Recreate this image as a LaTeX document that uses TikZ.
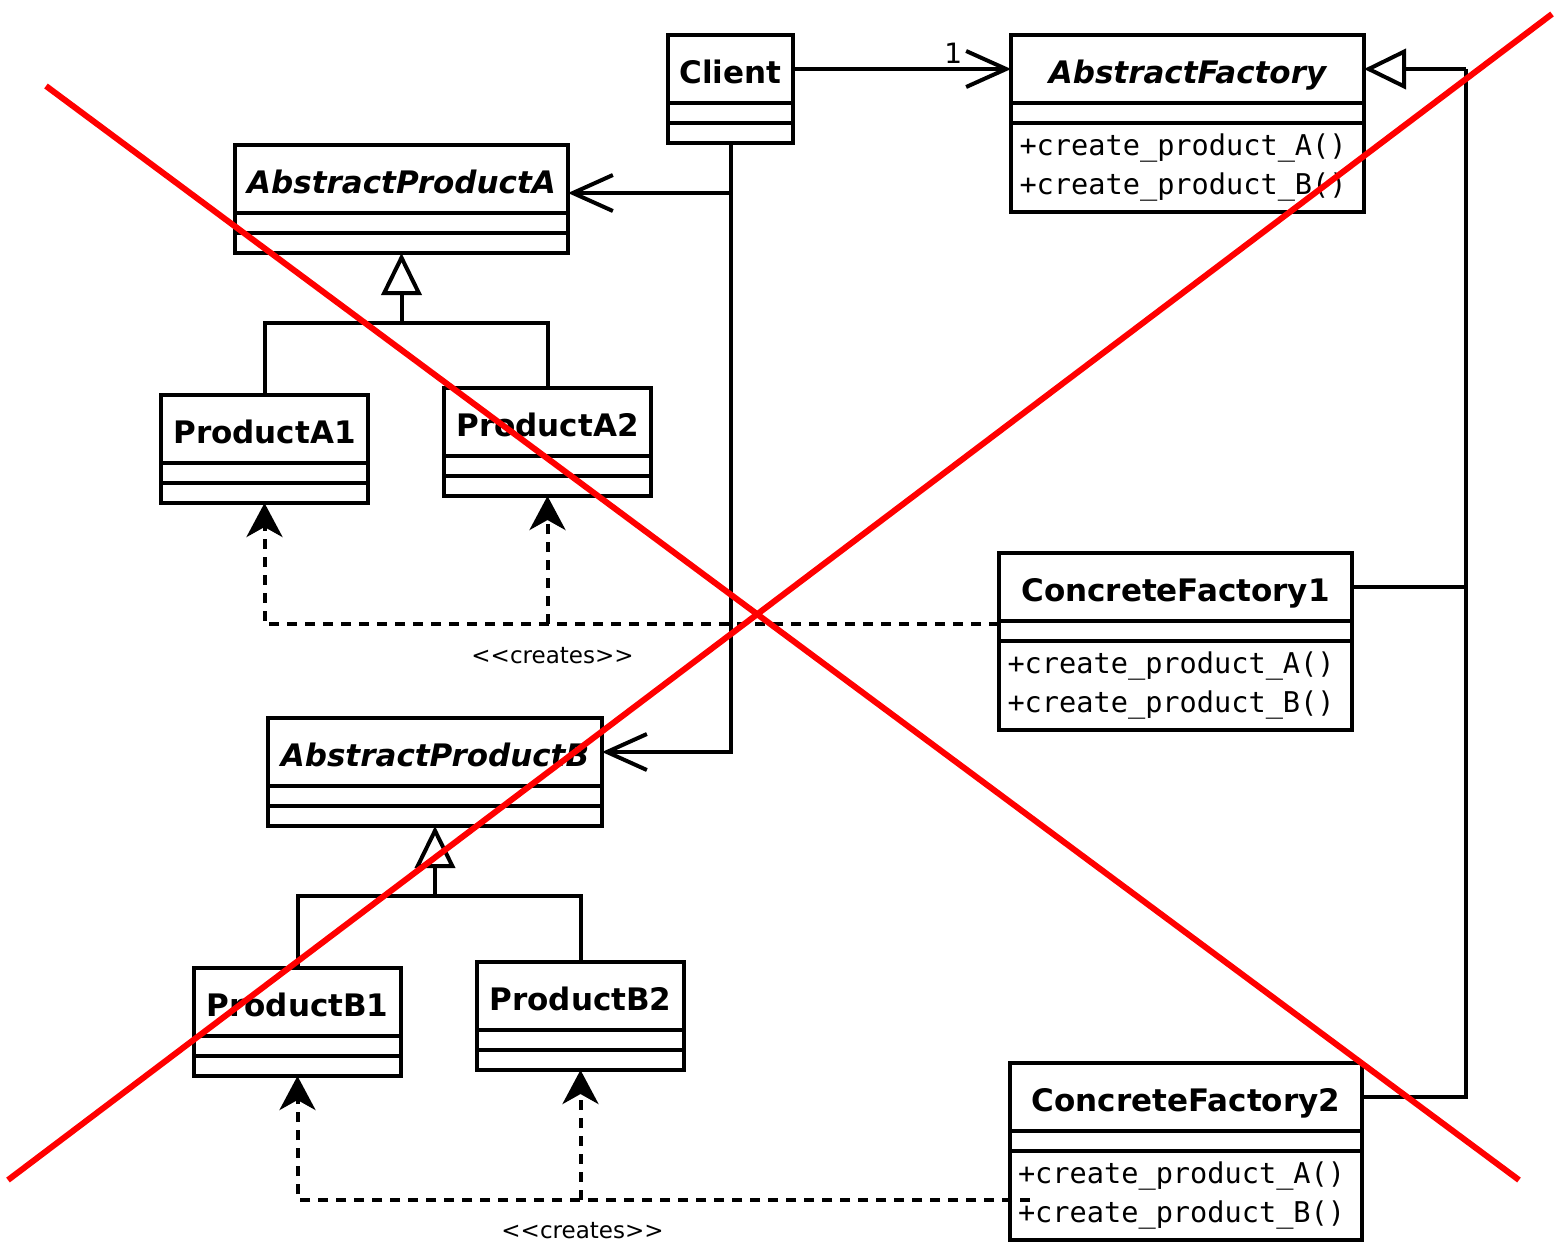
\documentclass[tikz,border=0pt]{standalone}
\usepackage{fontspec}
\setmainfont{DejaVu Sans}
\setmonofont{DejaVu Sans Mono}
\usetikzlibrary{positioning,arrows.meta}

\tikzset{
  classtitle/.style={draw, line width=2pt, minimum height=34pt, inner sep=0pt, outer sep=0pt,
    text height=14.2pt, text depth=0pt,
    font=\fontsize{15.5}{18}\selectfont\bfseries},
  classpart/.style={draw, line width=2pt, minimum height=10pt, inner sep=0pt, outer sep=0pt},
  methods/.style={minimum height=44.5pt, inner xsep=4pt, text width=168pt, align=left,
    font=\ttfamily\fontsize{14.3}{19.5}\selectfont},
  branch/.style={line width=2pt},
  assoc/.style={line width=2pt, -{Straight Barb[length=20pt,width=18pt]}},
  inherit/.style={line width=2pt, -{Triangle[open,length=21pt,width=20pt]}},
  creates/.style={line width=2pt, dash pattern=on 5pt off 4pt,
    -{Stealth[length=17pt,width=18pt,inset=5pt]}},
  createslabel/.style={inner sep=0pt, font=\fontsize{11.5}{13}\selectfont},
  cross/.style={line width=3pt, red},
}

% name, corner, width, title, methods style, methods
\newcommand{\umlclass}[6]{%
  \node[classtitle, minimum width=#3, anchor=north west] (#1) at (#2) {#4};
  \node[classpart, minimum width=#3, below=0pt of #1] (#1-a) {};
  \node[classpart, minimum width=#3, below=0pt of #1-a, #5] (#1-m) {#6};
}

\begin{document}
\begin{tikzpicture}[x=0.5pt, y=-0.5pt]
\useasboundingbox (0,0) rectangle (1556,1243);

\umlclass{client}{668,35}{62.5pt}{Client}{}{}
\umlclass{factory}{1011,35}{176.5pt}{\itshape AbstractFactory}{methods}
  {+create\_product\_A()\\+create\_product\_B()}
\umlclass{productA}{235,145}{166.5pt}{\itshape AbstractProductA}{}{}
\umlclass{productA1}{161,395}{103.5pt}{ProductA1}{}{}
\umlclass{productA2}{444,388}{103.5pt}{ProductA2}{}{}
\umlclass{productB}{268,718}{167pt}{\itshape AbstractProductB}{}{}
\umlclass{productB1}{194,968}{103.5pt}{ProductB1}{}{}
\umlclass{productB2}{477,962}{103.5pt}{ProductB2}{}{}
\umlclass{factory1}{999,553}{176.5pt}{ConcreteFactory1}{methods}
  {+create\_product\_A()\\+create\_product\_B()}
\umlclass{factory2}{1010,1063}{176pt}{ConcreteFactory2}{methods}
  {+create\_product\_A()\\+create\_product\_B()}

% client associations
\draw[assoc] (client.east) -- node[pos=0.735, above, inner sep=2pt,
  font=\fontsize{14}{16}\selectfont] (mult) {1} (factory.west);
\draw[assoc] (client-m.south) |- ([yshift=-7pt]productA.east);
\draw[assoc] (client-m.south) |- (productB.east);

% generalizations
\coordinate (splitA) at ([yshift=-35pt]productA-m.south);
\draw[branch] (productA1.north) |- (splitA) -| (productA2.north);
\draw[inherit] (splitA) -- (productA-m.south);

\coordinate (splitB) at ([yshift=-35pt]productB-m.south);
\draw[branch] (productB1.north) |- (splitB) -| (productB2.north);
\draw[inherit] (splitB) -- (productB-m.south);

\coordinate (splitF) at ([xshift=51pt]factory.east);
\draw[inherit] (splitF) -- (factory.east);
\draw[branch] (factory1.east) -| (splitF);
\draw[branch] (factory2.east) -| (splitF);

% creates
\coordinate (fromF1) at ([yshift=-1.5pt]factory1.south west);
\coordinate (toA2) at (productA2-m.south |- fromF1);
\draw[creates] (fromF1) -| (productA1-m.south);
\draw[creates] (toA2) -- (productA2-m.south);
\node[createslabel, below=11.5pt of toA2, xshift=2.5pt] (createsA) {<{}<creates>{}>};

\coordinate (fromF2) at ([xshift=10pt,yshift=-2pt]factory2-m.west);
\coordinate (toB2) at (productB2-m.south |- fromF2);
\draw[creates] (fromF2) -| (productB1-m.south);
\draw[creates] (toB2) -- (productB2-m.south);
\node[createslabel, below=11pt of toB2, xshift=1pt] (createsB) {<{}<creates>{}>};

% red cross
\draw[cross] (46,86) -- (1519,1180);
\draw[cross] (8,1180) -- (1552,14);
\end{tikzpicture}
\end{document}
